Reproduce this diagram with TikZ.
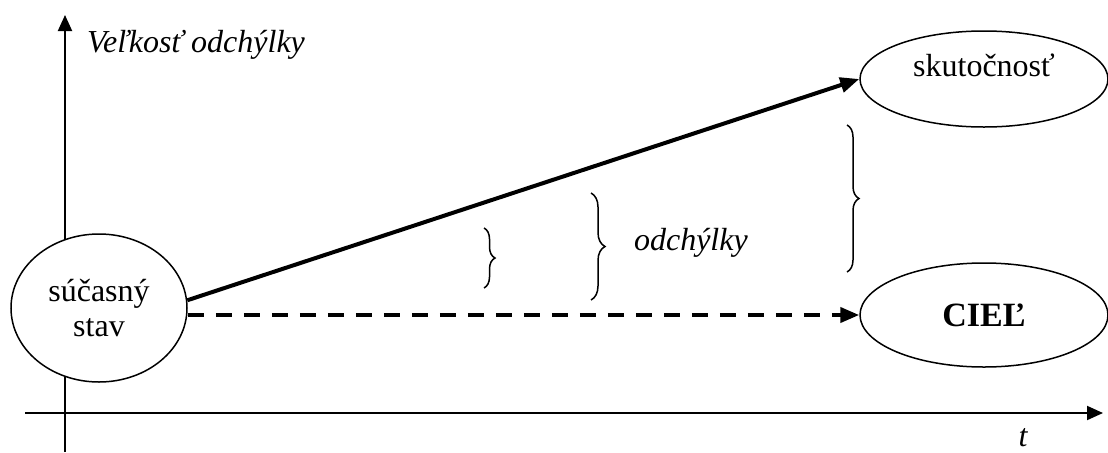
\documentclass[tikz,border=0pt]{standalone}
\usepackage{fontspec}
\setmainfont{Liberation Serif}
\usepackage{tikz}
\usetikzlibrary{arrows.meta,positioning,shapes.geometric,
  decorations.pathreplacing}

\tikzset{
  stateoval/.style={draw,ellipse,inner sep=0pt,line width=0.75pt},
  axisline/.style={line width=1pt,-{Triangle[length=8pt,width=7pt]}},
  gapbrace/.style={line width=0.75pt,
    decorate,decoration={brace,amplitude=#1}},
}

\begin{document}
\begin{tikzpicture}[font=\fontsize{16}{17.5}\selectfont]
  \begin{scope}[x=0.5pt,y=0.5pt]
    \useasboundingbox (0,0) rectangle (1108,452);
    % axes
    \coordinate (ybot) at (65,0);
    \coordinate (ytop) at (65,437);
    \coordinate (xleft) at (25,39);
    \coordinate (xright) at (1103,39);
    \draw[axisline] (ybot) -- (ytop);
    \draw[axisline] (xleft) -- (xright);
    \node[font=\fontsize{16}{18}\selectfont\itshape,anchor=west]
      (ylabel) at (80,407) {Veľkosť odchýlky};
    \node[font=\fontsize{16}{18}\selectfont\itshape] (tlabel) at (1023,14) {t};

    % states
    \node[stateoval,fill=white,minimum width=88pt,minimum height=74pt,
      align=center] (now) at (99,144) {súčasný\\stav};
    \node[stateoval,minimum width=124pt,minimum height=48pt,
      text depth=14pt] (actual) at (984,373) {skutočnosť};
    \node[stateoval,minimum width=124pt,minimum height=52pt,
      font=\fontsize{17}{19}\selectfont\bfseries] (goal) at (984,137) {CIEĽ};

    \draw[line width=2pt,-{Triangle[length=9.5pt,width=7.5pt]}]
      (now.5) -- (actual.west);
    \draw[line width=2pt,dash pattern=on 8pt off 6pt,
      -{Triangle[length=9.5pt,width=7.5pt]}] (now.east |- goal.west) -- (goal.west);

    % deviations
    \draw[gapbrace=5.5pt] (484,224) -- (484,164);
    \draw[gapbrace=7pt] (591,259) -- (591,152);
    \draw[gapbrace=6pt] (847,327) -- (847,180);
    \node[font=\fontsize{16}{18}\selectfont\itshape,anchor=west]
      (gaps) at (627,209) {odchýlky};
  \end{scope}
\end{tikzpicture}
\end{document}
